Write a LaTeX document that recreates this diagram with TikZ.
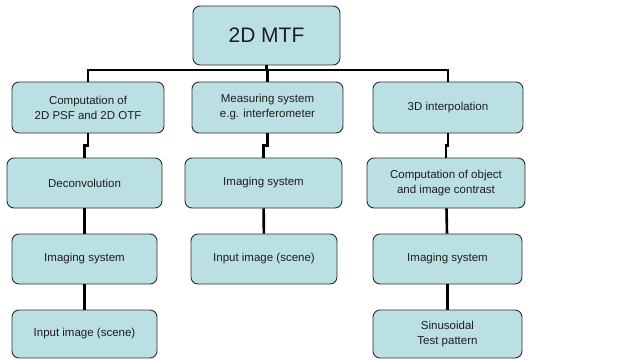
\documentclass[tikz,border=0pt]{standalone}
\usepackage{fontspec}
\setmainfont{Liberation Sans}
\definecolor{boxfill}{RGB}{187,224,228}
\definecolor{boxline}{RGB}{45,45,45}
\definecolor{txt}{RGB}{30,30,30}
\begin{document}
\begin{tikzpicture}[x=1pt,y=-1pt,
  blk/.style={draw=boxline, line width=0.9pt, fill=boxfill, rounded corners=7pt,
    inner sep=0pt, align=center, text=txt,
    font=\fontsize{11.5}{15}\selectfont},
  head/.style={blk, font=\fontsize{21}{24}\selectfont},
  wire/.style={line width=2.6pt, black}]
\useasboundingbox (0,0) rectangle (637,361);

% root
\node[head, minimum width=147pt, minimum height=59pt] (t) at (266.5,35.5) {2D MTF};

% first row
\node[blk, minimum width=152pt, minimum height=51pt] (a1) at (88,107.5) {Computation of\\2D PSF and 2D OTF};
\node[blk, minimum width=151pt, minimum height=51pt] (b1) at (267.5,107.5) {Measuring system\\e.g. interferometer};
\node[blk, minimum width=150pt, minimum height=51pt] (c1) at (448,107.5) {3D interpolation};

% second row
\node[blk, minimum width=155pt, minimum height=50pt] (a2) at (84.5,183) {Deconvolution};
\node[blk, minimum width=157pt, minimum height=50pt] (b2) at (263.5,183) {Imaging system};
\node[blk, minimum width=158pt, minimum height=50pt] (c2) at (446,183) {Computation of object\\and image contrast};

% third row
\node[blk, minimum width=145pt, minimum height=50pt] (a3) at (84.5,259) {Imaging system};
\node[blk, minimum width=146pt, minimum height=50pt] (b3) at (264,259) {Input image (scene)};
\node[blk, minimum width=149pt, minimum height=50pt] (c3) at (447.5,259) {Imaging system};

% fourth row
\node[blk, minimum width=145pt, minimum height=48pt] (a4) at (84.5,334) {Input image (scene)};
\node[blk, minimum width=149pt, minimum height=48pt] (c4) at (447.5,334) {Sinusoidal\\Test pattern};

% tree bus below the root
\draw[wire] (t.south) -- ++(0,4.5) coordinate (bus);
\draw[wire] (a1.north) |- (bus) -| (c1.north);
\draw[wire] (bus) -| (b1.north);

% column chains
\draw[wire] (a1.south) -- ++(0,12) -| (a2.north);
\draw[wire] (b1.south) -- ++(0,12) -| (b2.north);
\draw[wire] (c1.south) -- ++(0,12) -| (c2.north);
\draw[wire] (a2) -- (a3);
\draw[wire] (a3) -- (a4);
\draw[wire] (b2) -- (b3);
\draw[wire] (c2) -- (c3);
\draw[wire] (c3) -- (c4);
\end{tikzpicture}
\end{document}
